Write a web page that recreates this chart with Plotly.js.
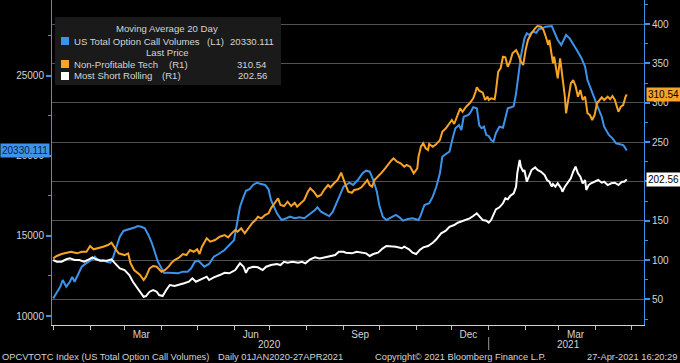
<!DOCTYPE html>
<html>
<head>
<meta charset="utf-8">
<script src="https://cdn.plot.ly/plotly-3.0.1.min.js"></script>
<style>
html,body{margin:0;padding:0;background:#000;}
#chart{width:680px;height:363px;}
</style>
</head>
<body>
<div id="chart"></div>
<script>
// ---------------- DATA ----------------
const blueDates = ["2020-01-01","2020-01-04","2020-01-07","2020-01-09","2020-01-12","2020-01-15","2020-01-17","2020-01-19","2020-01-22","2020-01-25","2020-01-28","2020-01-31","2020-02-03","2020-02-05","2020-02-07","2020-02-09","2020-02-12","2020-02-15","2020-02-18","2020-02-20","2020-02-23","2020-02-26","2020-02-29","2020-03-03","2020-03-06","2020-03-10","2020-03-12","2020-03-15","2020-03-18","2020-03-21","2020-03-24","2020-03-27","2020-03-29","2020-04-01","2020-04-03","2020-04-07","2020-04-11","2020-04-15","2020-04-19","2020-04-23","2020-04-26","2020-04-29","2020-05-02","2020-05-04","2020-05-07","2020-05-11","2020-05-15","2020-05-19","2020-05-24","2020-05-28","2020-06-01","2020-06-03","2020-06-06","2020-06-09","2020-06-11","2020-06-14","2020-06-17","2020-06-20","2020-06-23","2020-06-27","2020-06-30","2020-07-02","2020-07-07","2020-07-11","2020-07-15","2020-07-18","2020-07-22","2020-07-26","2020-07-30","2020-08-04","2020-08-08","2020-08-10","2020-08-13","2020-08-18","2020-08-20","2020-08-23","2020-08-26","2020-08-29","2020-09-01","2020-09-03","2020-09-06","2020-09-09","2020-09-13","2020-09-17","2020-09-20","2020-09-23","2020-09-26","2020-09-29","2020-10-01","2020-10-04","2020-10-07","2020-10-11","2020-10-15","2020-10-18","2020-10-21","2020-10-25","2020-10-29","2020-11-03","2020-11-05","2020-11-08","2020-11-12","2020-11-15","2020-11-18","2020-11-21","2020-11-23","2020-11-26","2020-11-29","2020-12-02","2020-12-04","2020-12-07","2020-12-09","2020-12-11","2020-12-15","2020-12-17","2020-12-19","2020-12-22","2020-12-24","2020-12-26","2020-12-28","2020-12-30","2021-01-01","2021-01-03","2021-01-05","2021-01-07","2021-01-10","2021-01-13","2021-01-15","2021-01-17","2021-01-20","2021-01-22","2021-01-24","2021-01-26","2021-01-28","2021-01-31","2021-02-02","2021-02-04","2021-02-07","2021-02-10","2021-02-12","2021-02-15","2021-02-18","2021-02-23","2021-02-25","2021-02-28","2021-03-03","2021-03-05","2021-03-07","2021-03-10","2021-03-13","2021-03-16","2021-03-20","2021-03-23","2021-03-25","2021-03-28","2021-03-31","2021-04-03","2021-04-06","2021-04-08","2021-04-12","2021-04-15","2021-04-18","2021-04-21","2021-04-24","2021-04-25","2021-04-27"];
const blueValues = [11100,11440,11830,12250,11830,12140,12440,12140,12670,13080,13250,13390,13540,13700,13540,13450,13500,13390,13330,13600,14230,14950,15310,15370,15470,15540,15620,15570,15470,15060,14540,13910,13390,12980,12700,12700,12700,12670,12770,12770,12980,13390,13450,13290,13080,13250,13700,13870,14120,14430,14740,15570,16820,17450,17820,17910,18180,18320,18240,18180,17910,17240,16410,15990,16100,16200,16100,16160,16100,16370,16620,16790,16510,16310,16240,16510,17040,17450,18070,18180,18320,18180,18490,18910,19070,19010,18490,17760,16930,16200,15990,16160,16310,16160,15950,16060,16100,15990,16310,16930,17040,17450,18070,18910,19940,20110,20260,21190,21720,21920,21610,22440,22550,22750,23030,22970,21920,21720,21820,21300,21240,20990,20880,21410,21820,21750,22340,22970,23030,23110,23900,24940,26190,27330,27650,27540,27750,27680,27900,27960,28060,28100,27750,27230,26920,27230,27540,27330,26920,26600,26090,25560,24730,24110,23480,22970,22440,21820,21300,21090,20780,20740,20670,20570,20330.111];

const orangeDates = ["2020-01-01","2020-01-04","2020-01-08","2020-01-12","2020-01-16","2020-01-21","2020-01-25","2020-01-29","2020-02-01","2020-02-04","2020-02-08","2020-02-12","2020-02-16","2020-02-19","2020-02-22","2020-02-25","2020-02-27","2020-03-01","2020-03-04","2020-03-06","2020-03-09","2020-03-12","2020-03-14","2020-03-17","2020-03-19","2020-03-22","2020-03-25","2020-03-28","2020-04-01","2020-04-04","2020-04-07","2020-04-09","2020-04-12","2020-04-16","2020-04-19","2020-04-22","2020-04-25","2020-04-28","2020-05-01","2020-05-03","2020-05-05","2020-05-09","2020-05-12","2020-05-16","2020-05-20","2020-05-24","2020-05-27","2020-05-30","2020-06-02","2020-06-04","2020-06-07","2020-06-10","2020-06-13","2020-06-16","2020-06-19","2020-06-21","2020-06-24","2020-06-27","2020-06-30","2020-07-02","2020-07-05","2020-07-08","2020-07-10","2020-07-13","2020-07-16","2020-07-19","2020-07-22","2020-07-24","2020-07-27","2020-07-30","2020-08-02","2020-08-04","2020-08-07","2020-08-10","2020-08-13","2020-08-16","2020-08-19","2020-08-21","2020-08-24","2020-08-27","2020-08-30","2020-09-01","2020-09-02","2020-09-05","2020-09-08","2020-09-10","2020-09-13","2020-09-16","2020-09-19","2020-09-21","2020-09-23","2020-09-25","2020-09-27","2020-09-30","2020-10-03","2020-10-06","2020-10-08","2020-10-11","2020-10-13","2020-10-16","2020-10-19","2020-10-22","2020-10-24","2020-10-27","2020-10-30","2020-11-02","2020-11-03","2020-11-05","2020-11-07","2020-11-09","2020-11-11","2020-11-12","2020-11-15","2020-11-18","2020-11-21","2020-11-23","2020-11-26","2020-11-29","2020-12-01","2020-12-03","2020-12-06","2020-12-08","2020-12-10","2020-12-13","2020-12-16","2020-12-19","2020-12-21","2020-12-22","2020-12-24","2020-12-27","2020-12-29","2020-12-31","2021-01-01","2021-01-03","2021-01-06","2021-01-07","2021-01-09","2021-01-11","2021-01-13","2021-01-15","2021-01-17","2021-01-19","2021-01-21","2021-01-24","2021-01-26","2021-01-28","2021-01-30","2021-02-01","2021-02-03","2021-02-06","2021-02-09","2021-02-11","2021-02-14","2021-02-16","2021-02-18","2021-02-20","2021-02-21","2021-02-23","2021-02-24","2021-02-25","2021-02-27","2021-02-28","2021-03-02","2021-03-03","2021-03-04","2021-03-06","2021-03-07","2021-03-09","2021-03-11","2021-03-13","2021-03-15","2021-03-17","2021-03-19","2021-03-21","2021-03-23","2021-03-25","2021-03-27","2021-03-29","2021-03-31","2021-04-02","2021-04-04","2021-04-06","2021-04-08","2021-04-11","2021-04-13","2021-04-15","2021-04-17","2021-04-20","2021-04-22","2021-04-24","2021-04-26","2021-04-27"];
const orangeValues = [102.1,105.1,107.6,109.3,110.5,108.5,110.5,110.5,117.8,113.6,114.9,116.9,119.1,122.0,114.9,108.5,107.6,106.3,108.5,95.8,87.3,83.1,80.9,74.6,78.8,89.4,92.4,91.5,85.1,87.3,91.5,95.8,100.0,103.4,107.6,106.3,112.7,110.5,113.6,107.6,116.9,127.6,123.3,125.4,129.6,131.8,128.8,133.9,138.1,135.9,140.3,133.9,140.3,146.6,150.8,155.0,153.0,157.2,159.4,165.7,172.1,178.4,169.9,168.6,174.1,168.6,172.8,167.7,172.1,176.3,186.8,191.1,186.8,180.5,182.6,189.9,195.3,192.4,197.5,201.7,211.0,203.8,198.3,186.8,185.5,189.0,189.9,192.4,197.5,201.7,195.3,193.2,201.7,205.9,211.0,216.6,220.8,226.2,229.3,224.9,222.9,218.6,220.8,218.6,210.2,216.6,231.3,244.0,248.3,242.0,239.8,247.4,244.0,247.4,252.5,263.1,267.4,272.9,278.0,272.9,286.5,292.8,288.5,294.9,299.2,305.5,313.9,319.5,315.2,312.7,303.4,307.6,303.4,305.5,304.3,313.9,339.4,343.7,358.4,357.7,345.7,352.1,362.7,366.9,360.6,352.1,347.9,366.9,379.7,388.2,394.5,397.4,396.6,392.4,383.8,373.3,379.7,356.4,350.0,358.4,337.3,331.0,356.4,345.7,328.8,307.6,286.5,303.4,324.6,328.8,321.2,307.6,316.1,303.4,307.6,286.5,284.3,278.0,284.3,299.2,303.4,306.8,303.4,307.6,304.3,308.5,303.4,288.5,295.0,297.0,307.6,310.54];

const whiteDates = ["2020-01-01","2020-01-04","2020-01-08","2020-01-12","2020-01-15","2020-01-19","2020-01-23","2020-01-27","2020-01-30","2020-02-03","2020-02-06","2020-02-10","2020-02-15","2020-02-19","2020-02-22","2020-02-26","2020-03-01","2020-03-05","2020-03-08","2020-03-11","2020-03-14","2020-03-17","2020-03-19","2020-03-22","2020-03-25","2020-03-28","2020-03-30","2020-04-02","2020-04-05","2020-04-08","2020-04-12","2020-04-16","2020-04-20","2020-04-24","2020-04-27","2020-04-30","2020-05-06","2020-05-09","2020-05-11","2020-05-15","2020-05-20","2020-05-24","2020-05-28","2020-06-02","2020-06-04","2020-06-06","2020-06-09","2020-06-11","2020-06-13","2020-06-17","2020-06-21","2020-06-25","2020-06-28","2020-07-02","2020-07-07","2020-07-10","2020-07-13","2020-07-16","2020-07-20","2020-07-25","2020-07-28","2020-07-31","2020-08-04","2020-08-08","2020-08-12","2020-08-16","2020-08-20","2020-08-25","2020-08-28","2020-09-01","2020-09-03","2020-09-08","2020-09-12","2020-09-16","2020-09-20","2020-09-23","2020-09-26","2020-09-30","2020-10-04","2020-10-07","2020-10-11","2020-10-15","2020-10-20","2020-10-22","2020-10-26","2020-10-29","2020-11-01","2020-11-04","2020-11-07","2020-11-11","2020-11-15","2020-11-18","2020-11-22","2020-11-26","2020-11-29","2020-12-03","2020-12-06","2020-12-10","2020-12-13","2020-12-16","2020-12-19","2020-12-22","2020-12-24","2020-12-27","2020-12-30","2021-01-01","2021-01-03","2021-01-05","2021-01-07","2021-01-10","2021-01-13","2021-01-15","2021-01-17","2021-01-19","2021-01-22","2021-01-24","2021-01-25","2021-01-27","2021-01-28","2021-01-30","2021-01-31","2021-02-02","2021-02-03","2021-02-04","2021-02-06","2021-02-09","2021-02-11","2021-02-14","2021-02-17","2021-02-19","2021-02-21","2021-02-23","2021-02-24","2021-02-26","2021-02-28","2021-03-03","2021-03-04","2021-03-06","2021-03-09","2021-03-11","2021-03-13","2021-03-15","2021-03-17","2021-03-19","2021-03-21","2021-03-23","2021-03-24","2021-03-26","2021-03-28","2021-03-31","2021-04-03","2021-04-06","2021-04-08","2021-04-11","2021-04-14","2021-04-17","2021-04-20","2021-04-23","2021-04-25","2021-04-27"];
const whiteValues = [100.0,97.8,97.8,100.9,102.1,100.0,100.0,97.8,100.0,103.4,100.9,99.1,99.1,100.9,95.8,89.4,87.3,80.9,72.4,66.0,58.4,53.3,54.2,59.7,61.9,59.7,55.5,54.2,61.9,68.2,66.9,68.2,70.4,72.4,76.7,72.4,76.7,78.8,74.6,78.0,80.9,83.8,83.1,87.3,91.5,95.8,91.5,83.8,89.4,91.5,90.7,87.3,91.5,93.6,94.9,93.6,97.8,96.6,97.8,96.6,97.8,95.8,100.9,103.4,102.1,103.4,104.2,106.3,110.5,110.5,109.3,108.5,110.5,109.3,108.5,105.1,107.6,109.3,114.9,117.8,117.8,116.9,114.9,116.9,113.6,109.3,107.6,112.7,116.1,117.8,122.0,126.3,133.9,137.2,142.3,144.5,147.4,149.9,150.8,153.0,155.9,159.4,155.9,150.8,149.9,147.4,150.8,157.2,164.4,167.0,172.1,178.4,177.2,181.3,184.8,193.2,210.2,227.1,218.6,212.2,214.4,199.5,203.8,208.0,214.4,217.8,214.4,212.2,208.0,201.7,199.5,193.2,196.6,193.2,197.5,191.1,186.8,193.2,199.5,203.8,212.2,218.6,210.2,205.9,197.5,201.7,189.0,195.3,197.5,199.5,201.7,198.3,199.5,195.3,197.5,198.3,195.3,199.5,199.5,202.56];

const seriesNames = ["US Total Option Call Volumes", "Non-Profitable Tech", "Most Short Rolling"];
const seriesAxisTags = ["(L1)", "(R1)", "(R1)"];
const lastValueText = ["20330.111", "310.54", "202.56"];
const monthTickVals = ["2020-03-15","2020-06-15","2020-09-15","2020-12-15","2021-03-15"];
const monthTickText = ["Mar","Jun","Sep","Dec","Mar"];
const yearLabels = ["2020","2021"];
const yearLabelDates = ["2020-07-01","2021-03-09"];

// ---------------- STYLE / LAYOUT ----------------
const BLUE = "#3d93ea", ORANGE = "#f7a326", WHITE = "#ffffff";
const TXT = "#d4d4d4";
const FONT = "Liberation Sans, Arial, sans-serif";
const ML = 52, MR = 36, MT = 0, MB = 38;
const PW = 680 - ML - MR, PH = 363 - MT - MB;
const ax = p => (p - ML) / PW;
const ay = p => 1 - (p - MT) / PH;

const traces = [
  {x: blueDates, y: blueValues, type: "scatter", mode: "lines", yaxis: "y",
   line: {color: BLUE, width: 2}, name: seriesNames[0], hoverinfo: "skip"},
  {x: orangeDates, y: orangeValues, type: "scatter", mode: "lines", yaxis: "y2",
   line: {color: ORANGE, width: 2}, name: seriesNames[1], hoverinfo: "skip"},
  {x: whiteDates, y: whiteValues, type: "scatter", mode: "lines", yaxis: "y2",
   line: {color: WHITE, width: 2}, name: seriesNames[2], hoverinfo: "skip"}
];

const ann = [];
function txt(text, x, y, size, opts) {
  ann.push(Object.assign({text: text, x: ax(x), y: ay(y), xref: "paper", yref: "paper",
    showarrow: false, xanchor: "left", yanchor: "middle",
    font: {family: FONT, size: size, color: TXT}}, opts || {}));
}
// Legend content
const LS = 9.6;
txt("Moving Average 20 Day", 167, 29, LS, {xanchor: "center"});
txt(seriesNames[0], 72, 41, LS);
txt(seriesAxisTags[0], 205, 41, LS);
txt(lastValueText[0], 276, 41, LS, {xanchor: "right"});
txt("Last Price", 167, 52, LS, {xanchor: "center"});
txt(seriesNames[1], 72, 64, LS);
txt(seriesAxisTags[1], 167, 64, LS);
txt(lastValueText[1], 269, 64, LS, {xanchor: "right"});
txt(seriesNames[2], 72, 76, LS);
txt(seriesAxisTags[2], 160, 76, LS);
txt(lastValueText[2], 269, 76, LS, {xanchor: "right"});

// Year labels under the month labels
yearLabels.forEach((t, i) => ann.push({text: t, x: yearLabelDates[i], xref: "x", y: ay(344), yref: "paper",
  showarrow: false, xanchor: "center", yanchor: "middle", font: {family: FONT, size: 10, color: TXT}}));

// Footer
txt("OPCVTOTC Index (US Total Option Call Volumes)", 0, 357, 9.3);
txt("Daily 01JAN2020-27APR2021", 216, 357, 9.3);
txt("Copyright\u00a9 2021 Bloomberg Finance L.P.", 373, 357, 9.3);
txt("27-Apr-2021 16:20:29", 679, 357, 9.3, {xanchor: "right"});

// Last-value axis tags
ann.push({text: lastValueText[0], x: ax(0), xref: "paper", y: blueValues[blueValues.length - 1], yref: "y",
  showarrow: false, xanchor: "left", yanchor: "middle", bgcolor: BLUE, borderpad: 1,
  font: {family: FONT, size: 10, color: "#0a1e3c"}});
ann.push({text: lastValueText[1], x: ax(646), xref: "paper", y: orangeValues[orangeValues.length - 1], yref: "y2",
  showarrow: false, xanchor: "left", yanchor: "middle", bgcolor: ORANGE, borderpad: 1,
  font: {family: FONT, size: 10, color: "#000"}});
ann.push({text: lastValueText[2], x: ax(646), xref: "paper", y: whiteValues[whiteValues.length - 1], yref: "y2",
  showarrow: false, xanchor: "left", yanchor: "middle", bgcolor: WHITE, borderpad: 1,
  font: {family: FONT, size: 10, color: "#000"}});

const shapes = [
  // legend panel
  {type: "rect", xref: "paper", yref: "paper", x0: ax(55), x1: ax(281), y0: ay(85), y1: ay(17),
   fillcolor: "#1a1a1a", line: {width: 0}, layer: "above"},
  {type: "rect", xref: "paper", yref: "paper", x0: ax(61), x1: ax(69), y0: ay(45), y1: ay(37),
   fillcolor: BLUE, line: {width: 0}, layer: "above"},
  {type: "rect", xref: "paper", yref: "paper", x0: ax(61), x1: ax(69), y0: ay(68), y1: ay(60),
   fillcolor: ORANGE, line: {width: 0}, layer: "above"},
  {type: "rect", xref: "paper", yref: "paper", x0: ax(61), x1: ax(69), y0: ay(80), y1: ay(72),
   fillcolor: WHITE, line: {width: 0}, layer: "above"},
  // year separator
  {type: "line", xref: "x", yref: "paper", x0: "2021-01-01", x1: "2021-01-01", y0: ay(337), y1: ay(350),
   line: {color: "#9a9a9a", width: 1}}
];

const layout = {
  width: 680, height: 363,
  paper_bgcolor: "#000", plot_bgcolor: "#000",
  margin: {l: ML, r: MR, t: MT, b: MB, pad: 0},
  showlegend: false,
  font: {family: FONT, size: 10, color: TXT},
  xaxis: {
    type: "date", range: ["2019-12-31", "2021-05-11 12:00"],
    tickmode: "array", tickvals: monthTickVals, ticktext: monthTickText,
    ticks: "", showgrid: false, zeroline: false,
    showline: true, linecolor: "#d0d0d0", linewidth: 1,
    tickfont: {family: FONT, size: 10, color: TXT},
    minor: {ticks: "outside", ticklen: 4, tickcolor: "#bdbdbd", tickwidth: 1, dtick: "M1", tick0: "2020-01-01", showgrid: false}
  },
  yaxis: {
    range: [9439, 29725], tick0: 0, dtick: 5000, tickformat: "d",
    ticks: "outside", ticklen: 5, tickwidth: 2, tickcolor: BLUE,
    showline: true, linecolor: BLUE, linewidth: 1,
    showgrid: false, zeroline: false,
    tickfont: {family: FONT, size: 10, color: TXT},
    minor: {ticks: "outside", ticklen: 3, tickwidth: 1, tickcolor: BLUE, dtick: 2500, showgrid: false}
  },
  yaxis2: {
    overlaying: "y", side: "right", range: [17.4, 430.5], tick0: 0, dtick: 50,
    ticks: "outside", ticklen: 5, tickwidth: 2, tickcolor: BLUE,
    showline: true, linecolor: BLUE, linewidth: 1,
    showgrid: true, gridcolor: "#525252", gridwidth: 1, zeroline: false,
    tickfont: {family: FONT, size: 10, color: TXT},
    minor: {ticks: "outside", ticklen: 3, tickwidth: 1, tickcolor: BLUE, dtick: 25, showgrid: false}
  },
  annotations: ann,
  shapes: shapes
};

Plotly.newPlot("chart", traces, layout, {displayModeBar: false, staticPlot: true});
</script>
</body>
</html>
